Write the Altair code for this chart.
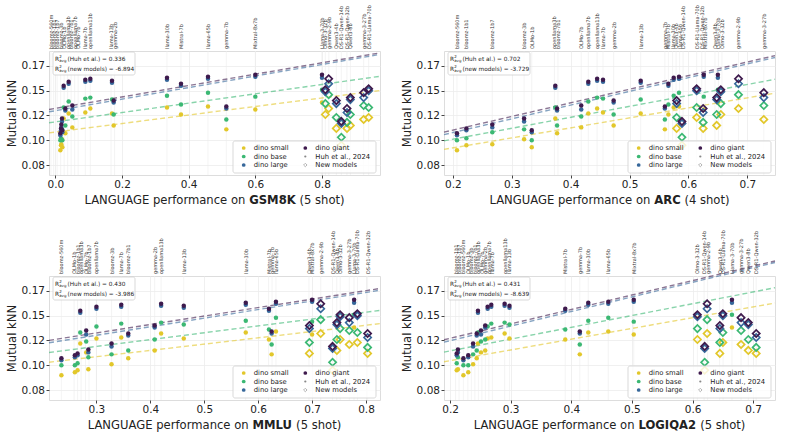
import altair as alt
import pandas as pd

# ---------------- data ----------------
models = ["bloomz-560m", "bloomz-1b1", "bloomz-1b7", "bloomz-3b", "OLMo-1b", "openllama3b",
          "bloomz-7b1", "OLMo-7b", "openllama7b", "openllama13b", "llama-7b", "gemma-2b",
          "llama-13b", "gemma-7b", "Mistral-7b", "llama-30b", "llama-65b", "Mixtral-8x7b",
          "Llama-3-70b", "Qwen3-4b", "DS-R1-Qwen-14b", "DS-R1-Llama-70b", "DS-R1-Qwen-32b",
          "Qwen3-8b", "Olmo-3-32b", "gemma-2-9b", "gemma-3-27b"]
is_new = [0] * 19 + [1] * 8          # hollow diamonds
in_fit = [1] * 18 + [0] * 9          # models used for the Huh et al. regression lines

knn_small = [.090, .095, .096, .101, .093, .122, .107, .113, .127, .132, .128, .115, .127, .111,
             .126, .133, .134, .131, .138, .112, .095, .123, .112, .115, .126, .132, .121]
knn_base = [.100, .102, .108, .111, .100, .133, .115, .124, .139, .143, .142, .126, .141, .121,
            .136, .145, .148, .144, .151, .123, .103, .133, .118, .126, .137, .146, .135]
knn_large = [.105, .110, .113, .119, .108, .153, .130, .131, .157, .160, .159, .138, .158, .132,
             .155, .161, .162, .164, .163, .137, .117, .150, .128, .141, .149, .157, .143]
knn_giant = [.107, .112, .116, .122, .110, .155, .132, .135, .159, .162, .161, .140, .160, .134,
             .157, .163, .164, .166, .166, .140, .119, .152, .132, .143, .151, .162, .148]

score_gsm8k = [0.015, 0.017, 0.018, 0.020, 0.021, 0.025, 0.030, 0.051, 0.040, 0.105, 0.090, 0.175,
               0.170, 0.513, 0.377, 0.335, 0.458, 0.600, 0.800, 0.843, 0.858, 0.940, 0.875, 0.885,
               0.810, 0.820, 0.925]
score_arc = [0.207, 0.223, 0.267, 0.321, 0.334, 0.374, 0.377, 0.418, 0.430, 0.445, 0.455, 0.473,
             0.519, 0.560, 0.566, 0.575, 0.584, 0.626, 0.650, 0.580, 0.589, 0.614, 0.625, 0.648,
             0.655, 0.685, 0.728]
score_mmlu = [0.235, 0.265, 0.285, 0.328, 0.260, 0.270, 0.359, 0.281, 0.300, 0.420, 0.346, 0.408,
              0.462, 0.625, 0.620, 0.577, 0.633, 0.700, 0.778, 0.695, 0.738, 0.784, 0.803, 0.746,
              0.752, 0.716, 0.769]
score_logiqa2 = [0.222, 0.211, 0.213, 0.238, 0.230, 0.246, 0.244, 0.251, 0.262, 0.290, 0.268, 0.258,
                 0.298, 0.414, 0.390, 0.428, 0.461, 0.503, 0.665, 0.645, 0.620, 0.650, 0.705, 0.692,
                 0.608, 0.624, 0.680]

benchmarks = ["GSM8K", "ARC", "MMLU", "LOGIQA2"]
shot_text = ["(5 shot)", "(4 shot)", "(5 shot)", "(5 shot)"]
bench_scores = [score_gsm8k, score_arc, score_mmlu, score_logiqa2]
x_domains = [[-0.019, 0.974], [0.185, 0.747], [0.212, 0.826], [0.190, 0.736]]
x_ticks = [[0.0, 0.2, 0.4, 0.6, 0.8], [0.2, 0.3, 0.4, 0.5, 0.6, 0.7],
           [0.3, 0.4, 0.5, 0.6, 0.7, 0.8], [0.2, 0.3, 0.4, 0.5, 0.6, 0.7]]
r2_huh = [0.336, 0.702, 0.430, 0.431]
r2_new = [-6.894, -3.729, -3.986, -8.639]

sizes = ["dino small", "dino base", "dino large", "dino giant"]
colors = ["#e2c72a", "#3bb873", "#36679a", "#3e1a4d"]
y_ticks = [0.075, 0.100, 0.125, 0.150, 0.175]

# ---------------- styling ----------------
FONT = "DejaVu Sans"
W, H = 331, 124
TFS = 11.6
NAME_GAP = 3.5   # minimum pixel gap between rotated model-name labels

REG = {'L': .557, 'A': .684, 'N': .748, 'G': .775, 'U': .732, 'E': .632, ' ': .318, 'p': .635,
       'e': .615, 'r': .411, 'f': .352, 'o': .612, 'm': .974, 'a': .613, 'n': .634, 'c': .550,
       '(': .390, ')': .390, '5': .636, '4': .636, 's': .521, 'h': .634, 't': .392}
BOLD = {'G': .821, 'S': .720, 'M': .995, '8': .696, 'K': .775, 'A': .774, 'R': .770, 'C': .734,
        'L': .637, 'U': .812, 'O': .850, 'I': .372, 'Q': .850, '2': .696}


def tw(s, table, size):
    return sum(table.get(ch, 0.6) for ch in s) * size


def one():
    return pd.DataFrame({"a": [0]})


def txt(s, x, y, size, weight="normal", align="left", baseline="middle", color="#222"):
    return alt.Chart(one()).mark_text(text=s, font=FONT, fontSize=size, fontWeight=weight,
                                      align=align, baseline=baseline, color=color).encode(
        x=alt.value(x), y=alt.value(y))


def spread_labels(xs, dom):
    """Push label positions apart (in data units) so rotated names do not overlap."""
    span = dom[1] - dom[0]
    px = [(v - dom[0]) / span * W for v in xs]
    order = sorted(range(len(px)), key=lambda i: px[i])
    p = [px[i] for i in order]
    for _ in range(2000):
        moved = False
        for j in range(len(p) - 1):
            d = p[j + 1] - p[j]
            if d < NAME_GAP - 1e-6:
                s = (NAME_GAP - d) / 2
                p[j] -= s
                p[j + 1] += s
                moved = True
        if not moved:
            break
    out = [0.0] * len(px)
    for rank, i in enumerate(order):
        out[i] = dom[0] + min(max(p[rank], 2), W - 2) / W * span
    return out


def panel(k):
    sc = bench_scores[k]
    dom = x_domains[k]
    rows = []
    for sname, arr in zip(sizes, [knn_small, knn_base, knn_large, knn_giant]):
        for m in range(len(models)):
            rows.append({"model": models[m], "x": sc[m], "y": arr[m], "size": sname,
                         "new": is_new[m], "fit": in_fit[m]})
    df = pd.DataFrame(rows)
    mdf = pd.DataFrame({"model": models, "x": spread_labels(sc, dom)})

    xs = alt.Scale(domain=dom, nice=False, zero=False)
    ys = alt.Scale(domain=[0.065, 0.19], nice=False, zero=False)
    x_axis = alt.Axis(
        values=x_ticks[k], format=".1f", title=None, labelFontSize=10.5, labelFont=FONT,
        labelColor="#222", tickSize=3, tickColor="#444", labelPadding=1.5, domain=False,
        grid=True, gridColor="#ececec", gridWidth=0.8)
    y_axis = alt.Axis(
        values=y_ticks, title="Mutual kNN", titleFont=FONT, titleFontSize=TFS,
        titleFontWeight="normal", titleColor="#222", titlePadding=4,
        labelExpr="datum.value < 0.09 ? '0.08' : datum.value < 0.11 ? '0.10' : datum.value < 0.14 ? '0.12' : datum.value < 0.16 ? '0.15' : '0.17'",
        labelFontSize=10.5, labelFont=FONT, labelColor="#222", tickSize=3, tickColor="#444",
        labelPadding=1.5, domain=False, grid=True, gridColor="#ececec", gridWidth=0.8)
    x_ax = alt.X("x:Q", scale=xs, axis=x_axis)
    y_ax = alt.Y("y:Q", scale=ys, axis=y_axis)
    col = alt.Color("size:N", scale=alt.Scale(domain=sizes, range=colors), legend=None)

    vlines = alt.Chart(mdf).mark_rule(color="#ececec", strokeWidth=0.6).encode(
        x=x_ax, y=alt.value(0), y2=alt.value(H))
    names = alt.Chart(mdf).mark_text(angle=270, align="left", baseline="middle", fontSize=5,
                                      font=FONT, color="#333").encode(
        x=x_ax, y=alt.value(-2), text="model:N")
    reg = alt.Chart(df).transform_filter("datum.fit == 1").transform_regression(
        "x", "y", groupby=["size"], extent=dom).mark_line(
        strokeDash=[5, 3], strokeWidth=1.4, opacity=0.6).encode(x=x_ax, y=y_ax, color=col)
    old = alt.Chart(df).transform_filter("datum.new == 0").mark_circle(size=20, opacity=1).encode(
        x=x_ax, y=y_ax, color=col)
    new = alt.Chart(df).transform_filter("datum.new == 1").mark_point(
        shape="diamond", filled=False, size=52, strokeWidth=1.7, opacity=1).encode(
        x=x_ax, y=y_ax, color=col)

    layers = [vlines, reg, old, new, names]

    # R^2 box
    layers.append(alt.Chart(one()).mark_rect(fill="white", fillOpacity=0.8, stroke="#cfcfcf",
                                             strokeWidth=0.8, cornerRadius=2).encode(
        x=alt.value(4), x2=alt.value(86), y=alt.value(1), y2=alt.value(24)))
    for yy, lab, val in [(8, "(Huh et al.)", r2_huh[k]), (18, "(new models)", r2_new[k])]:
        layers.append(txt("R", 6, yy, 5.8))
        layers.append(txt("2", 10.2, yy - 2.2, 3.9))
        layers.append(txt("avg", 10.2, yy + 1.8, 3.9))
        layers.append(txt(f"{lab} = {val:.3f}", 18.5, yy, 5.8))

    # legend
    layers.append(alt.Chart(one()).mark_rect(fill="white", fillOpacity=0.8, stroke="#cfcfcf",
                                             strokeWidth=0.8, cornerRadius=2).encode(
        x=alt.value(W - 147), x2=alt.value(W - 4), y=alt.value(H - 34), y2=alt.value(H - 2)))
    row_y = [H - 27, H - 18.5, H - 10]
    entries = [(0, 0, "dino small", colors[0], "circle", True, 14),
               (0, 1, "dino base", colors[1], "circle", True, 14),
               (0, 2, "dino large", colors[2], "circle", True, 14),
               (1, 0, "dino giant", colors[3], "circle", True, 14),
               (1, 1, "Huh et al., 2024", "#888888", "circle", True, 5),
               (1, 2, "New models", "#b5b5b5", "diamond", False, 12)]
    for c, r, lab, colr, shp, fil, sz in entries:
        mx = W - 136.3 if c == 0 else W - 74.7
        if fil:
            mk = alt.Chart(one()).mark_point(shape=shp, filled=True, size=sz, color=colr, opacity=1)
        else:
            mk = alt.Chart(one()).mark_point(shape=shp, filled=False, size=sz, color=colr,
                                             strokeWidth=1, opacity=1)
        layers.append(mk.encode(x=alt.value(mx), y=alt.value(row_y[r])))
        layers.append(txt(lab, mx + 10, row_y[r], 6.8))

    # x title with bold benchmark name
    p1 = "LANGUAGE performance on"
    p2 = benchmarks[k]
    p3 = shot_text[k]
    w1 = tw(p1 + " ", REG, TFS)
    w2 = tw(p2, BOLD, TFS)
    w3 = tw(" " + p3, REG, TFS)
    x0 = W / 2 - (w1 + w2 + w3) / 2
    ty = H + 29
    layers.append(txt(p1, x0, ty, TFS, baseline="alphabetic"))
    layers.append(txt(p2, x0 + w1, ty, TFS, weight="bold", baseline="alphabetic"))
    layers.append(txt(p3, x0 + w1 + w2 + tw(" ", REG, TFS), ty, TFS, baseline="alphabetic"))

    return alt.layer(*layers).properties(width=W, height=H)


panels = [panel(k) for k in range(4)]
chart = alt.concat(*panels, columns=2, spacing={"row": 101, "column": 64}, bounds="flush").properties(
    padding={"left": 5, "top": 4, "right": 5, "bottom": 2}
).configure_view(stroke="#8c8c8c", strokeWidth=1).configure(font=FONT)

chart.save("out.html", embed_options={"renderer": "svg", "actions": False})
